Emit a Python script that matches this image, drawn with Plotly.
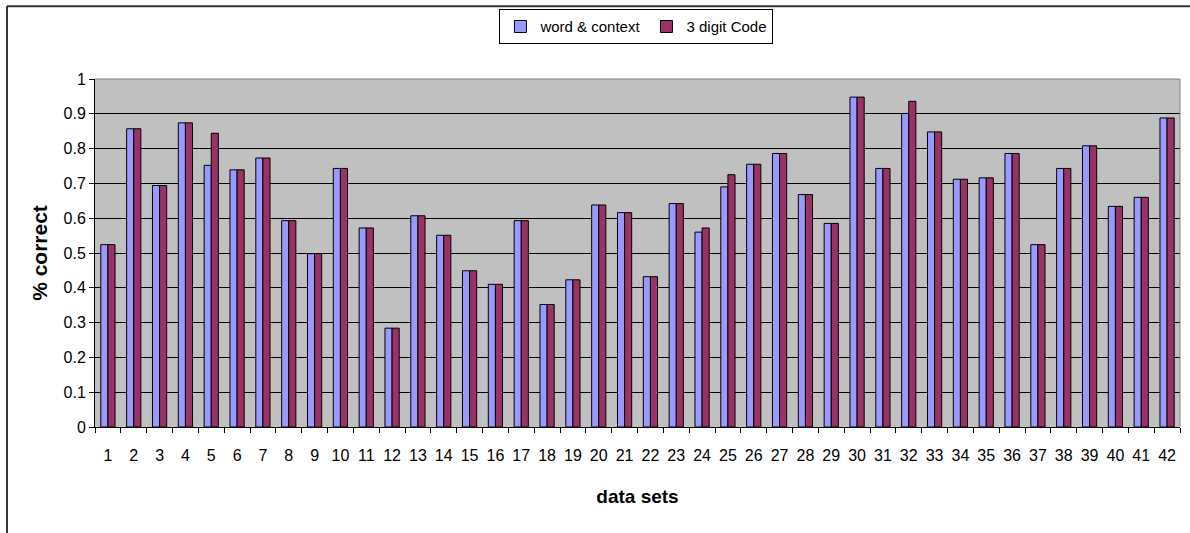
import plotly.graph_objects as go

# Data sets 1..42 and accuracy per method
data_sets = [str(i) for i in range(1, 43)]

word_context = [
    0.524, 0.857, 0.694, 0.874, 0.752, 0.739, 0.773, 0.593, 0.498, 0.743,
    0.572, 0.284, 0.607, 0.551, 0.449, 0.410, 0.593, 0.352, 0.423, 0.638,
    0.616, 0.432, 0.642, 0.560, 0.690, 0.755, 0.786, 0.668, 0.585, 0.948,
    0.743, 0.901, 0.848, 0.712, 0.716, 0.786, 0.524, 0.743, 0.808, 0.634,
    0.660, 0.888,
]

digit_code = [
    0.524, 0.857, 0.694, 0.874, 0.844, 0.739, 0.773, 0.593, 0.498, 0.743,
    0.572, 0.284, 0.607, 0.551, 0.449, 0.410, 0.593, 0.352, 0.423, 0.638,
    0.616, 0.432, 0.642, 0.572, 0.725, 0.755, 0.786, 0.668, 0.585, 0.948,
    0.743, 0.936, 0.848, 0.712, 0.716, 0.786, 0.524, 0.743, 0.808, 0.634,
    0.660, 0.888,
]

y_ticks = [i / 10 for i in range(11)]
y_labels = ["0", "0.1", "0.2", "0.3", "0.4", "0.5", "0.6", "0.7", "0.8", "0.9", "1"]

FONT = "Liberation Sans, Arial, sans-serif"

fig = go.Figure()
fig.add_trace(go.Bar(
    x=data_sets, y=word_context, name="word & context",
    marker=dict(color="#9999FF", line=dict(color="#000000", width=1)),
))
fig.add_trace(go.Bar(
    x=data_sets, y=digit_code, name="3 digit Code",
    marker=dict(color="#993366", line=dict(color="#000000", width=1)),
))

fig.update_layout(
    width=1190, height=533,
    margin=dict(l=95, r=10, t=78, b=106),
    paper_bgcolor="white",
    plot_bgcolor="#C0C0C0",
    barmode="group",
    bargap=0.45,
    bargroupgap=0,
    font=dict(family=FONT, size=15, color="#000000"),
    showlegend=True,
    legend=dict(
        orientation="h",
        x=0.499, xanchor="center",
        y=1.197, yanchor="top",
        bgcolor="white",
        bordercolor="#000000", borderwidth=1,
        font=dict(family=FONT, size=15, color="#000000"),
        itemwidth=30,
        traceorder="normal",
    ),
    xaxis=dict(
        type="category",
        tickson="boundaries",
        tickangle=0,
        ticks="outside", ticklen=5, tickcolor="#000000", tickwidth=1,
        ticklabelstandoff=14,
        showgrid=False,
        showline=True, linecolor="#000000", linewidth=1,
        tickfont=dict(family=FONT, size=16),
        title=dict(text="<b>data sets</b>", font=dict(family=FONT, size=19), standoff=26),
        zeroline=False,
    ),
    yaxis=dict(
        range=[0, 1],
        tickvals=y_ticks, ticktext=y_labels,
        ticks="outside", ticklen=5, tickcolor="#000000", tickwidth=1,
        showgrid=True, gridcolor="#000000", gridwidth=1,
        showline=True, linecolor="#000000", linewidth=1,
        tickfont=dict(family=FONT, size=16),
        title=dict(text="<b>% correct</b>", font=dict(family=FONT, size=21), standoff=10),
        zeroline=False,
    ),
    shapes=[
        # plot-area border on the top and right
        dict(type="line", xref="paper", yref="paper", x0=0, x1=1, y0=1, y1=1,
             line=dict(color="#808080", width=1)),
        dict(type="line", xref="paper", yref="paper", x0=1, x1=1, y0=0, y1=1,
             line=dict(color="#808080", width=1)),
        # chart-area frame (top and left edges)
        dict(type="line", xref="paper", yref="paper", x0=-0.0811, x1=1.02, y0=1.209, y1=1.209,
             line=dict(color="#333333", width=2)),
        dict(type="line", xref="paper", yref="paper", x0=-0.0811, x1=-0.0811, y0=1.209, y1=-0.31,
             line=dict(color="#333333", width=2)),
    ],
)

fig.write_html("out.html")
